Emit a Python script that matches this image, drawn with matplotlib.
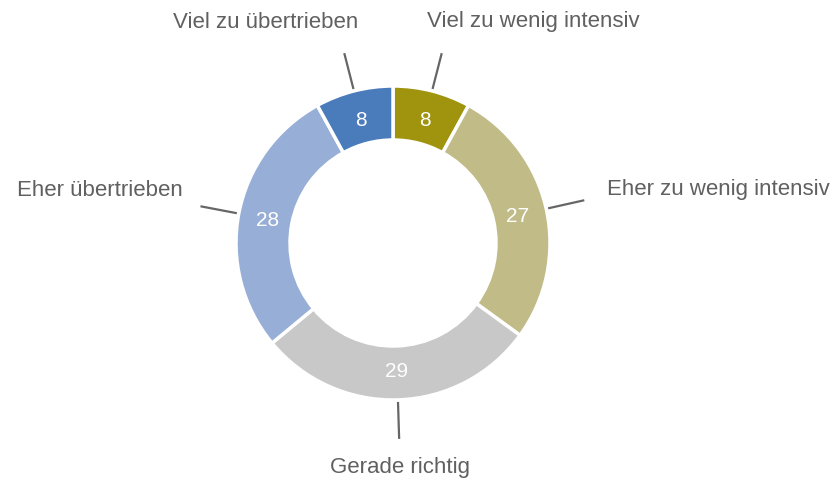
import numpy as np
import matplotlib.pyplot as plt

plt.rcParams['font.family'] = ['Liberation Sans', 'DejaVu Sans']

labels = ['Viel zu wenig intensiv', 'Eher zu wenig intensiv', 'Gerade richtig',
          'Eher übertrieben', 'Viel zu übertrieben']
values = [8, 27, 29, 28, 8]
colors = ['#a0940f', '#c0bb87', '#c8c8c8', '#97aed6', '#4a7bbb']

# label text anchors in pixel coords (y from top), alignment
label_pos = [(533, 22, 'center'), (607, 190, 'left'), (400, 467, 'center'),
             (183, 190, 'right'), (266, 22, 'center')]

W, H = 838, 480
cx, cy = 393, H - 243
r_out, r_in = 157, 103

fig = plt.figure(figsize=(W / 100, H / 100), dpi=100)
ax = fig.add_axes([0, 0, 1, 1])

wedges, _ = ax.pie(values, center=(cx, cy), radius=r_out, startangle=90,
                   counterclock=False, colors=colors,
                   wedgeprops=dict(width=r_out - r_in, edgecolor='white', linewidth=2.5))

# pie() resets the limits, so set them afterwards
ax.set_xlim(0, W)
ax.set_ylim(0, H)
ax.set_aspect('equal')
ax.axis('off')

for w, v, lab, (tx, ty, ha) in zip(wedges, values, labels, label_pos):
    mid = np.deg2rad((w.theta1 + w.theta2) / 2)
    c, s = np.cos(mid), np.sin(mid)
    rm = (r_out + r_in) / 2 - 2
    ax.text(cx + rm * c, cy + rm * s - 1, str(v), color='white', fontsize=15,
            ha='center', va='center')
    ax.plot([cx + 159 * c, cx + 196 * c], [cy + 159 * s, cy + 196 * s],
            color='#666666', lw=1.6, solid_capstyle='butt')
    ax.text(tx, H - ty, lab, color='#606060', fontsize=16, ha=ha, va='center')

fig.savefig('out.png', dpi=100)
